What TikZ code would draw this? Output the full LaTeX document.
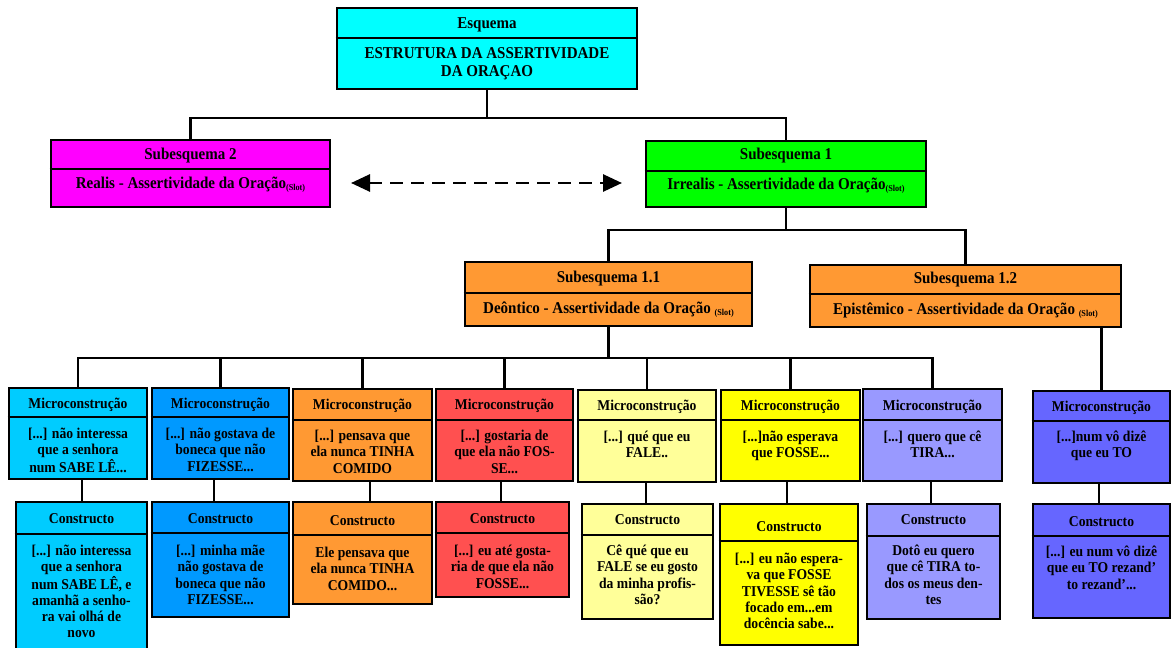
\documentclass[tikz,border=0pt]{standalone}
\usepackage{fontspec}
\setmainfont{Liberation Serif}[FakeStretch=0.91]
\usetikzlibrary{arrows.meta}
\definecolor{cEsq}{HTML}{00FFFF}
\definecolor{cSubA}{HTML}{FF00FF}
\definecolor{cSubB}{HTML}{00FF00}
\definecolor{cOr}{HTML}{FF9933}
\definecolor{cA}{HTML}{00CCFF}
\definecolor{cB}{HTML}{0099FF}
\definecolor{cC}{HTML}{FF9933}
\definecolor{cD}{HTML}{FF5050}
\definecolor{cE}{HTML}{FFFF99}
\definecolor{cF}{HTML}{FFFF00}
\definecolor{cG}{HTML}{9999FF}
\definecolor{cH}{HTML}{6666FF}
\tikzset{
  box/.style={draw=black, line width=2.6pt, rectangle, inner sep=0pt},
  divline/.style={line width=1.3pt},
  conn/.style={line width=2.2pt},
  hd/.style={font=\bfseries\fontsize{16.5}{17.5}\selectfont, inner sep=0pt, anchor=base},
  hdb/.style={font=\bfseries\fontsize{16.5}{17.5}\selectfont, inner sep=0pt, anchor=north, align=center, execute at begin node={\rule{0pt}{13pt}}},
  mt/.style={font=\bfseries\fontsize{15}{16.2}\selectfont, inner sep=0pt, anchor=base},
  mb/.style={font=\bfseries\fontsize{15}{16.2}\selectfont, inner sep=0pt, anchor=north, align=center, execute at begin node={\rule{0pt}{12pt}}},
  dasharrow/.style={line width=2.8pt, dash pattern=on 13pt off 8pt, {Triangle[length=19pt,width=17pt]}-{Triangle[length=19pt,width=17pt]}},
}
\newcommand\slot{\raisebox{-2pt}{\fontsize{9}{9}\selectfont(Slot)}}
\newcommand\cbox[7]{%
  \pgfmathsetmacro\bw{#4-#2}\pgfmathsetmacro\bh{#5-#3}%
  \pgfmathsetmacro\bx{(#2+#4)/2}\pgfmathsetmacro\by{(#3+#5)/2}%
  \node[box, fill=#7, minimum width=\bw pt, minimum height=\bh pt] (#1) at (\bx,\by) {};
  \draw[divline] (#1.west |- 0,#6) -- (#1.east |- 0,#6);
}
\begin{document}
\begin{tikzpicture}[x=1pt,y=-1pt]
\useasboundingbox (0,0) rectangle (1171,648);
\coordinate (busA) at (487,118);
\coordinate (busB) at (785,230);
\coordinate (busC) at (608,358);
% boxes
\cbox{esq}{337}{8}{637}{89}{38}{cEsq}
\node[hd] (esqh) at (esq.center |- 0,28.5) {Esquema};
\node[hdb] (esqb) at (esq.center |- 0,47.5) {ESTRUTURA DA ASSERTIVIDADE\\DA ORAÇAO};

\cbox{sub2}{51}{140}{330}{207}{169}{cSubA}
\node[hd] (sub2h) at (sub2.center |- 0,159.5) {Subesquema 2};
\node[hd] (sub2b) at (sub2.center |- 0,188.5) {Realis - Assertividade da Oração\slot};

\cbox{sub1}{646}{141}{926}{207}{171}{cSubB}
\node[hd] (sub1h) at (sub1.center |- 0,159.5) {Subesquema 1};
\node[hd] (sub1b) at (sub1.center |- 0,189.5) {Irrealis - Assertividade da Oração\slot};

\cbox{s11}{465}{262}{752}{326}{293}{cOr}
\node[hd] (s11h) at (s11.center |- 0,282.5) {Subesquema 1.1};
\node[hd] (s11b) at (s11.center |- 0,313.5) {Deôntico - Assertividade da Oração \slot};

\cbox{s12}{810}{265}{1121}{327}{294}{cOr}
\node[hd] (s12h) at (s12.center |- 0,283.5) {Subesquema 1.2};
\node[hd] (s12b) at (s12.center |- 0,314.5) {Epistêmico - Assertividade da Oração \slot};

% micro
\cbox{m1}{9}{388}{147}{479}{417}{cA}
\node[mt] (m1h) at (m1.center |- 0,408) {Microconstrução};
\node[mb] (m1b) at (m1.center |- 0,428) {[...] não interessa\\que a senhora\\num SABE LÊ...};
\cbox{m2}{152}{388}{289}{479}{417}{cB}
\node[mt] (m2h) at (m2.center |- 0,408) {Microconstrução};
\node[mb] (m2b) at (m2.center |- 0,428) {[...] não gostava de\\boneca que não\\FIZESSE...};
\cbox{m3}{293}{389}{432}{481}{420}{cC}
\node[mt] (m3h) at (m3.center |- 0,409) {Microconstrução};
\node[mb] (m3b) at (m3.center |- 0,430) {[...] pensava que\\ela nunca TINHA\\COMIDO};
\cbox{m4}{436}{389}{573}{481}{420}{cD}
\node[mt] (m4h) at (m4.center |- 0,409) {Microconstrução};
\node[mb] (m4b) at (m4.center |- 0,430) {[...] gostaria de\\que ela não FOS-\\SE...};
\cbox{m5}{578}{390}{716}{482}{420}{cE}
\node[mt] (m5h) at (m5.center |- 0,410) {Microconstrução};
\node[mb] (m5b) at (m5.center |- 0,431) {[...] qué que eu\\FALE..};
\cbox{m6}{721}{390}{860}{481}{420}{cF}
\node[mt] (m6h) at (m6.center |- 0,410) {Microconstrução};
\node[mb] (m6b) at (m6.center |- 0,431) {[...]não esperava\\que FOSSE...};
\cbox{m7}{863}{389}{1002}{481}{420}{cG}
\node[mt] (m7h) at (m7.center |- 0,410) {Microconstrução};
\node[mb] (m7b) at (m7.center |- 0,431) {[...] quero que cê\\TIRA...};
\cbox{m8}{1033}{391}{1170}{483}{421}{cH}
\node[mt] (m8h) at (m8.center |- 0,411) {Microconstrução};
\node[mb] (m8b) at (m8.center |- 0,431) {[...]num vô dizê\\que eu TO};

% constructos
\cbox{c1}{16}{502}{147}{651}{534}{cA}
\node[mt] (c1h) at (c1.center |- 0,523) {Constructo};
\node[mb] (c1b) at (c1.center |- 0,545) {[...] não interessa\\que a senhora\\num SABE LÊ, e\\amanhã a senho-\\ra vai olhá de\\novo};
\cbox{c2}{152}{502}{289}{617}{533}{cB}
\node[mt] (c2h) at (c2.center |- 0,523) {Constructo};
\node[mb] (c2b) at (c2.center |- 0,545) {[...] minha mãe\\não gostava de\\boneca que não\\FIZESSE...};
\cbox{c3}{293}{502}{432}{604}{535}{cC}
\node[mt] (c3h) at (c3.center |- 0,525) {Constructo};
\node[mb] (c3b) at (c3.center |- 0,547) {Ele pensava que\\ela nunca TINHA\\COMIDO...};
\cbox{c4}{436}{502}{569}{597}{533}{cD}
\node[mt] (c4h) at (c4.center |- 0,523) {Constructo};
\node[mb] (c4b) at (c4.center |- 0,545) {[...] eu até gosta-\\ria de que ela não\\FOSSE...};
\cbox{c5}{582}{504}{713}{619}{535}{cE}
\node[mt] (c5h) at (c5.center |- 0,524) {Constructo};
\node[mb] (c5b) at (c5.center |- 0,545) {Cê qué que eu\\FALE se eu gosto\\da minha profis-\\são?};
\cbox{c6}{720}{504}{858}{645}{541}{cF}
\node[mt] (c6h) at (c6.center |- 0,531) {Constructo};
\node[mb] (c6b) at (c6.center |- 0,553) {[...] eu não espera-\\va que FOSSE\\TIVESSE sê tão\\focado em...em\\docência sabe...};
\cbox{c7}{867}{504}{1000}{619}{536}{cG}
\node[mt] (c7h) at (c7.center |- 0,524) {Constructo};
\node[mb] (c7b) at (c7.center |- 0,545) {Dotô eu quero\\que cê TIRA to-\\dos os meus den-\\tes};
\cbox{c8}{1033}{504}{1170}{618}{536}{cH}
\node[mt] (c8h) at (c8.center |- 0,526) {Constructo};
\node[mb] (c8b) at (c8.center |- 0,546) {[...] eu num vô dizê\\que eu TO rezand’\\to rezand’...};

% connectors
\draw[conn] (esq.south) -- (esq.south |- busA);
\draw[conn] (sub2.north) |- (busA) -| (sub1.north);
\draw[conn] (sub1.south) -- (sub1.south |- busB);
\draw[conn] (s11.north) |- (busB) -| (s12.north);
\draw[conn] (s11.south) -- (s11.south |- busC);
\draw[conn] (m1.north) |- (busC);
\draw[conn] (m7.north) |- (busC);
\foreach \m in {m2,m3,m4,m5,m6}{\draw[conn] (\m.north) -- (\m.north |- busC);}
\draw[conn] (s12.south -| m8.north) -- (m8.north);
\foreach \i/\xx in {1/82,2/214,3/370,4/501,5/646,6/787,7/931,8/1099}{\draw[conn] (m\i.south -| \xx,0) -- (c\i.north -| \xx,0);}
% dashed relation
\coordinate (al) at (351,183);
\coordinate (ar) at (622,183);
\draw[dasharrow] (al) -- (ar);
\end{tikzpicture}
\end{document}
